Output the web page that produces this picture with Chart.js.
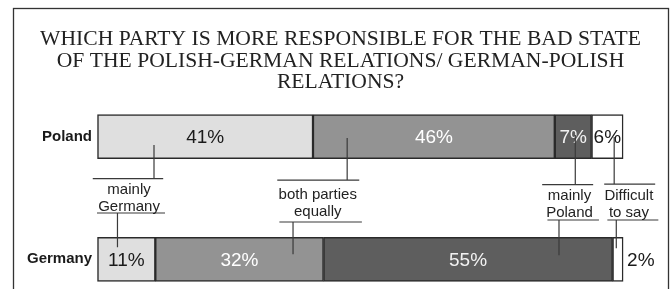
<!DOCTYPE html>
<html>
<head>
<meta charset="utf-8">
<script src="https://cdn.jsdelivr.net/npm/chart.js@4"></script>
<style>
    body { margin: 0; background: #fff; }
    canvas { display: block; }
</style>
</head>
<body>
<canvas id="chart" width="672" height="289"></canvas>
<script>
// Survey data (percent)
const countries = ['Poland', 'Germany'];
const mainlyGermany = [41, 11];
const bothEqually = [46, 32];
const mainlyPoland = [7, 55];
const difficultToSay = [6, 2];
const titleLines = [
    'WHICH PARTY IS MORE RESPONSIBLE FOR THE BAD STATE',
    'OF THE POLISH-GERMAN RELATIONS/ GERMAN-POLISH',
    'RELATIONS?'
];

// Callout boxes: x in percent of the bar, y in px offset from the category centre
const callouts = [
    { text: ['mainly', 'Germany'], upX: 10.75, up: [8.5, 42], top: [-0.9, 12.5], textX: 6.0, textY: [57.5, 74.5], bot: [-0.1, 12.85], botY: -46.3, downX: 3.8, downTo: -12 },
    { text: ['both parties', 'equally'], upX: 47.5, up: [1.5, 43.5], top: [34.2, 49.8], textX: 41.9, textY: [62.5, 79.5], bot: [34.6, 50.3], botY: -37.3, downX: 37.2, downTo: -5 },
    { text: ['mainly', 'Poland'], upX: 90.9, up: [-1.5, 48], top: [84.6, 94.3], textX: 89.8, textY: [63.5, 80], bot: [85.6, 95.4], botY: -39.3, downX: 87.8, downTo: -4 },
    { text: ['Difficult', 'to say'], upX: 98.3, up: [0.5, 47.5], top: [96.4, 106.1], textX: 101.1, textY: [63, 80], bot: [97.0, 106.7], botY: -39.3, downX: 98.7, downTo: -11 }
];

const fills = ['#dfdfdf', '#939393', '#5e5e5e', '#ffffff'];
const labelColors = ['#1a1a1a', '#ffffff', '#f2f2f2', '#1a1a1a'];
const series = [mainlyGermany, bothEqually, mainlyPoland, difficultToSay];
const seriesNames = ['mainly Germany', 'both parties equally', 'mainly Poland', 'Difficult to say'];

// the x axis runs on to the right edge so the title stays centred in the frame;
// 100% lands at about x=623
const xMax = 109.3;

// Frame + white background
const framePlugin = {
    id: 'frame',
    beforeDraw(chart) {
        const ctx = chart.ctx;
        ctx.save();
        ctx.fillStyle = '#ffffff';
        ctx.fillRect(0, 0, chart.width, chart.height);
        ctx.strokeStyle = '#333333';
        ctx.lineWidth = 1.3;
        ctx.strokeRect(13.5, 8.5, 655, 300);
        ctx.restore();
    }
};

// Percentage labels on the bars
const valueLabels = {
    id: 'valueLabels',
    afterDatasetsDraw(chart) {
        const ctx = chart.ctx;
        ctx.save();
        ctx.font = '19px "Liberation Sans", Arial, sans-serif';
        ctx.textBaseline = 'middle';
        chart.data.datasets.forEach((ds, di) => {
            chart.getDatasetMeta(di).data.forEach((bar, i) => {
                const txt = ds.data[i] + '%';
                const w = Math.abs(bar.x - bar.base);
                const tw = ctx.measureText(txt).width;
                if (w < tw) {
                    ctx.fillStyle = '#1a1a1a';
                    ctx.textAlign = 'left';
                    ctx.fillText(txt, bar.x + 4, bar.y + 1);
                } else {
                    ctx.fillStyle = labelColors[di];
                    ctx.textAlign = 'center';
                    ctx.fillText(txt, (bar.x + bar.base) / 2, bar.y + 1);
                }
            });
        });
        ctx.restore();
    }
};

// Callout lines and legend texts between the bars
const calloutPlugin = {
    id: 'callouts',
    afterDraw(chart) {
        const ctx = chart.ctx;
        const xs = chart.scales.x;
        const ys = chart.scales.y;
        const yP = ys.getPixelForValue(0);
        const yG = ys.getPixelForValue(1);
        const px = v => xs.getPixelForValue(v);
        ctx.save();
        ctx.strokeStyle = '#3a3a3a';
        ctx.lineWidth = 1.2;
        callouts.forEach(c => {
            ctx.beginPath();
            ctx.moveTo(px(c.upX), yP + c.up[0]);
            ctx.lineTo(px(c.upX), yP + c.up[1]);
            ctx.moveTo(px(c.top[0]), yP + c.up[1]);
            ctx.lineTo(px(c.top[1]), yP + c.up[1]);
            ctx.moveTo(px(c.bot[0]), yG + c.botY);
            ctx.lineTo(px(c.bot[1]), yG + c.botY);
            ctx.moveTo(px(c.downX), yG + c.botY);
            ctx.lineTo(px(c.downX), yG + c.downTo);
            ctx.stroke();

            ctx.fillStyle = '#222222';
            ctx.font = '15px "Liberation Sans", Arial, sans-serif';
            ctx.textAlign = 'center';
            ctx.textBaseline = 'alphabetic';
            c.text.forEach((t, i) => ctx.fillText(t, px(c.textX), yP + c.textY[i]));
        });
        ctx.restore();
    }
};

new Chart(document.getElementById('chart'), {
    type: 'bar',
    data: {
        labels: countries,
        datasets: series.map((d, i) => ({
            label: seriesNames[i],
            data: d,
            backgroundColor: fills[i],
            borderColor: '#2a2a2a',
            borderWidth: 1.5,
            borderSkipped: false,
            barThickness: 44,
            clip: false
        }))
    },
    options: {
        indexAxis: 'y',
        responsive: false,
        animation: false,
        devicePixelRatio: 1,
        layout: { padding: { left: 9, right: 0, top: 0, bottom: 29.7 } },
        plugins: {
            legend: { display: false },
            tooltip: { enabled: false },
            title: {
                display: true,
                text: titleLines,
                color: '#222222',
                font: { family: '"Liberation Serif", "Times New Roman", serif', size: 21.6, weight: 'normal', lineHeight: 1.0 },
                padding: { top: 28.8, bottom: 43 }
            }
        },
        scales: {
            x: { stacked: true, min: 0, max: xMax, display: false },
            y: {
                stacked: true,
                offset: false,
                grid: { display: false, drawTicks: false },
                border: { display: false },
                afterFit(scale) { scale.width = 88.5; },
                ticks: {
                    padding: 5.5,
                    color: '#1a1a1a',
                    font: { family: '"Liberation Sans", Arial, sans-serif', size: 15, weight: 'bold' }
                }
            }
        }
    },
    plugins: [framePlugin, valueLabels, calloutPlugin]
});
</script>
</body>
</html>
